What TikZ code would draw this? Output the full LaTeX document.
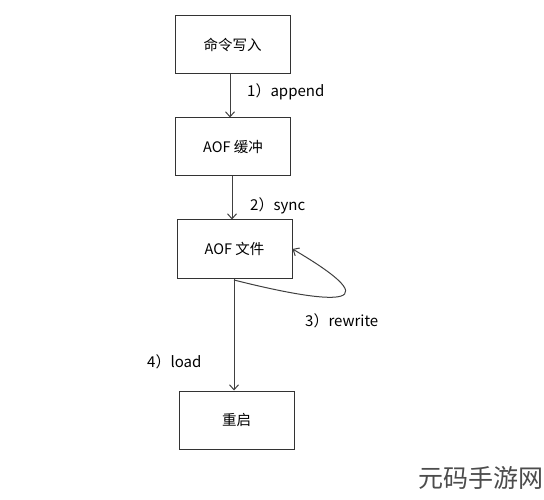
\documentclass[tikz,border=0pt]{standalone}
\usepackage{fontspec}
\setmainfont{Noto Sans CJK SC}
\usetikzlibrary{arrows.meta}
\begin{document}
\begin{tikzpicture}[x=1pt,y=-1pt,
  box/.style={draw=black!80,line width=1pt,minimum width=115pt,minimum height=58pt,inner sep=0pt,font=\fontsize{14.5}{16}\selectfont},
  conn/.style={draw=black!75,line width=1pt,-{Straight Barb[length=5pt,width=9pt]}},
  lbl/.style={font=\fontsize{15}{17}\selectfont,inner sep=0pt,anchor=west}]
\useasboundingbox[fill=white] (0,0) rectangle (544,500);
\node[box] (a) at (232.5,45) {命令写入};
\node[box] (b) at (233,147) {AOF 缓冲};
\node[box] (c) at (234.5,249) {AOF 文件};
\node[box] (d) at (236.5,420) {重启};
\draw[conn] (a.south -| 230,0) -- (b.north -| 230,0);
\draw[conn] (b.south -| 232,0) -- (c.north -| 232,0);
\draw[conn] (c.south -| 234,0) -- (d.north -| 234,0);
\coordinate (ls) at (234,280);
\draw[conn] (ls) .. controls (305,298) and (410,318) .. (c.east);
\node[lbl] (l1) at (247,92) {1）append};
\node[lbl] (l2) at (250,206) {2）sync};
\node[lbl] (l3) at (305,321) {3）rewrite};
\node[lbl] (l4) at (147,362) {4）load};
\node[font=\fontsize{25}{28}\selectfont,text=black!70,inner sep=0pt,anchor=west] (wm) at (418,478) {元码手游网};
\end{tikzpicture}
\end{document}
